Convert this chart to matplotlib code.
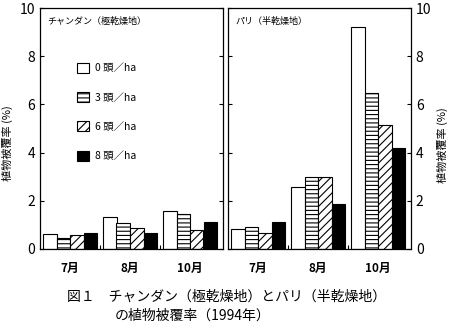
import matplotlib
matplotlib.use("Agg")
import matplotlib.pyplot as plt
import numpy as np

plt.rcParams['font.family'] = ['Noto Sans CJK JP', 'DejaVu Sans']
plt.rcParams['hatch.linewidth'] = 0.8

# data (vegetation cover %, 1994)
months = ["7月", "8月", "10月"]
densities = ["0 頭／ha", "3 頭／ha", "6 頭／ha", "8 頭／ha"]
chandan = [
    [0.62, 1.31, 1.59],   # 0 head/ha
    [0.47, 1.09, 1.45],   # 3
    [0.58, 0.86, 0.79],   # 6
    [0.65, 0.65, 1.13],   # 8
]
pari = [
    [0.82, 2.58, 9.22],
    [0.93, 2.97, 6.48],
    [0.65, 2.97, 5.13],
    [1.13, 1.87, 4.18],
]
panel_titles = ["チャンダン（極乾燥地）", "パリ（半乾燥地）"]

colors = ["white", "white", "white", "black"]
hatches = [None, "----", "////", None]

fig = plt.figure(figsize=(4.49, 3.28), dpi=100)
ax1 = fig.add_axes([40/449, 79/328, 183/449, 241/328])
ax2 = fig.add_axes([228/449, 79/328, 183/449, 241/328])

x = np.arange(len(months))
w = 0.225

for ax, data, title in [(ax1, chandan, panel_titles[0]), (ax2, pari, panel_titles[1])]:
    for i in range(4):
        ax.bar(x + (i - 1.5) * w, data[i], w, color=colors[i],
               edgecolor="black", hatch=hatches[i], linewidth=0.8,
               label=densities[i])
    ax.set_xlim(-0.5, 2.55)
    ax.set_ylim(0, 10)
    ax.set_yticks([0, 2, 4, 6, 8, 10])
    ax.set_xticks([0.5, 1.5])
    ax.set_xticklabels([])
    ax.tick_params(axis="x", direction="in", length=3, width=0.8)
    ax.tick_params(axis="y", direction="in", length=3, width=0.8,
                   left=True, right=True, labelsize=10)
    for s in ax.spines.values():
        s.set_linewidth(0.9)
    ax.text(0.04, 0.965, title, transform=ax.transAxes, fontsize=6.5,
            ha="left", va="top")
    for xi, m in zip(x, months):
        ax.text(xi, -0.55, m, ha="center", va="top", fontsize=8.5,
                fontweight="bold")

ax1.tick_params(axis="y", labelleft=True, labelright=False)
ax2.tick_params(axis="y", labelleft=False, labelright=True)

ax1.set_ylabel("植物被覆率 (%)", fontsize=8)
ax1.yaxis.set_label_coords(-0.145, 0.44)
ax2.yaxis.set_label_position("right")
ax2.set_ylabel("植物被覆率 (%)", fontsize=8, rotation=90)
ax2.yaxis.set_label_coords(1.142, 0.43)

ax1.legend(loc="upper left", bbox_to_anchor=(0.18, 0.79), frameon=False,
           fontsize=7.5, handlelength=1.1, handleheight=1.1,
           labelspacing=1.8, handletextpad=0.6, borderaxespad=0)

fig.text(67/449, 1 - 297/328, "図１　チャンダン（極乾燥地）とパリ（半乾燥地）",
         fontsize=10, ha="left", va="center")
fig.text(115/449, 1 - 316/328, "の植物被覆率（1994年）",
         fontsize=10, ha="left", va="center")

fig.savefig("out.png", dpi=100)
